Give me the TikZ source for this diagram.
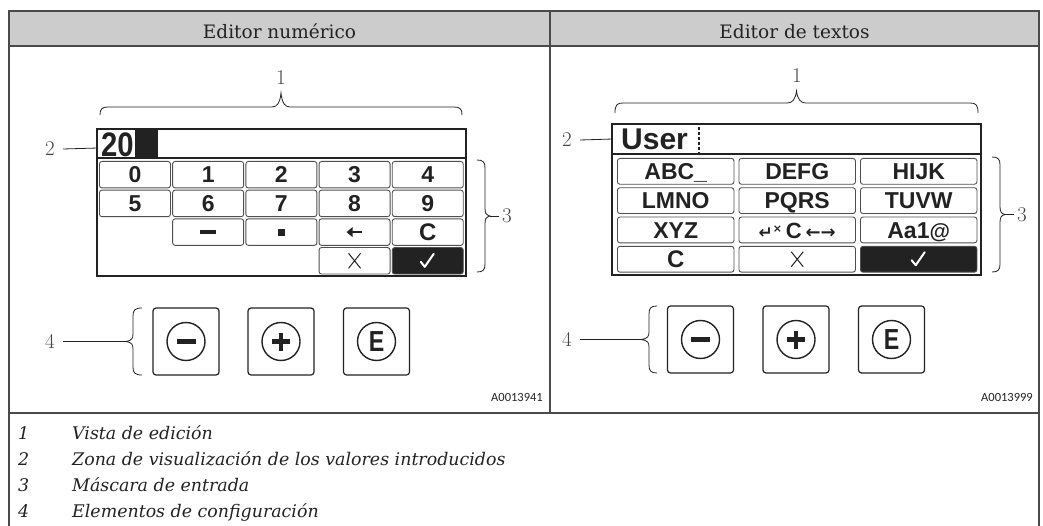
\documentclass[tikz,border=0pt]{standalone}
\usepackage{fontspec}
\usepackage{graphicx}
\setmainfont{DejaVu Serif}
\newfontfamily\keyf{Liberation Sans}
\newfontfamily\lmr{Latin Modern Roman}
\newfontfamily\dvs{DejaVu Sans}
\newfontfamily\idf{Carlito}
\definecolor{hdr}{HTML}{CCCCCC}
\definecolor{ln}{HTML}{4A4A4A}
\definecolor{ink}{HTML}{222222}
\definecolor{keyc}{HTML}{4F4F4F}

% horizontal brace, tip up: x1, x2, yend, ybody, ytip
\newcommand\topbrace[5]{%
 \pgfmathsetmacro\xmid{(#1+#2)/2}%
 \draw[brace] (#1,#3) .. controls (#1,{#4+2}) and ({#1+2},#4) .. ({#1+8},#4) -- ({\xmid-9},#4)
   .. controls ({\xmid-4},#4) and ({\xmid-1},{#4-4}) .. (\xmid,#5)
   .. controls ({\xmid+1},{#4-4}) and ({\xmid+4},#4) .. ({\xmid+9},#4) -- ({#2-8},#4)
   .. controls ({#2-2},#4) and (#2,{#4+2}) .. (#2,#3);}
% vertical brace, tip right: y1, y2, xend, xbody, xtip
\newcommand\bracer[5]{%
 \pgfmathsetmacro\ymid{(#1+#2)/2}%
 \draw[brace] (#3,#1) .. controls ({#4-2},#1) and (#4,{#1+2}) .. (#4,{#1+8}) -- (#4,{\ymid-8})
   .. controls (#4,{\ymid-3}) and ({#4+1},{\ymid-1}) .. (#5,\ymid)
   .. controls ({#4+1},{\ymid+1}) and (#4,{\ymid+3}) .. (#4,{\ymid+8}) -- (#4,{#2-8})
   .. controls (#4,{#2-2}) and ({#4-2},#2) .. (#3,#2);}
% vertical brace, tip left
\newcommand\bracel[5]{%
 \pgfmathsetmacro\ymid{(#1+#2)/2}%
 \draw[brace] (#3,#1) .. controls ({#4+2},#1) and (#4,{#1+2}) .. (#4,{#1+8}) -- (#4,{\ymid-8})
   .. controls (#4,{\ymid-3}) and ({#4-1},{\ymid-1}) .. (#5,\ymid)
   .. controls ({#4-1},{\ymid+1}) and (#4,{\ymid+3}) .. (#4,{\ymid+8}) -- (#4,{#2-8})
   .. controls (#4,{#2-2}) and ({#4+2},#2) .. (#3,#2);}

\begin{document}
\begin{tikzpicture}[x=1pt,y=-1pt,
  tbl/.style={draw=ln, line width=1.1pt},
  hdrtext/.style={font=\fontsize{18.5}{20}\selectfont, text=ink, inner sep=0pt},
  lab/.style={font=\lmr\fontsize{21}{22}\selectfont, text=ink!85!white, inner sep=0pt},
  brace/.style={draw=ink, line width=0.8pt},
  lead/.style={draw=ink, line width=0.8pt},
  box/.style={draw=ink, line width=1.3pt},
  key/.style={draw=keyc, line width=0.9pt, rounded corners=2.5pt, anchor=north west, inner sep=0pt,
    text=ink, font=\keyf\bfseries\fontsize{23}{23}\selectfont, text height=16.5pt, text depth=0pt},
  lkey/.style={key, minimum width=71pt, minimum height=26.5pt},
  rkey/.style={key, minimum width=116.5pt, minimum height=25.8pt},
  cfont/.style={font=\keyf\bfseries\fontsize{24}{24}\selectfont},
  valf/.style={anchor=base west, inner sep=0pt, text=ink},
  btn/.style={draw=ink, line width=1.2pt, rounded corners=3pt, minimum width=66pt, minimum height=67pt, inner sep=0pt},
  ring/.style={draw=ink, line width=1.4pt},
  efont/.style={font=\keyf\bfseries\fontsize{29}{29}\selectfont, text=ink, inner sep=0pt, text height=20.8pt, text depth=0pt},
  legend/.style={font=\itshape\fontsize{17.4}{19}\selectfont, text=ink, anchor=base west, inner sep=0pt},
  idt/.style={font=\idf\fontsize{12.5}{13}\selectfont, text=ink, anchor=base east, inner sep=0pt}
]
\useasboundingbox (0,0) rectangle (1043,526);
% ---------- table ----------
\fill[hdr] (9,11) rectangle (1039,46);
\draw[tbl] (9,526) -- (9,11) -- (1039,11) -- (1039,526);
\draw[tbl] (9,46) -- (1039,46);
\draw[tbl] (550,11) -- (550,413);
\draw[tbl] (9,413) -- (1039,413);
\node[hdrtext, anchor=base] (h1) at (279.5,38.5) {Editor numérico};
\node[hdrtext, anchor=base] (h2) at (794.5,38.5) {Editor de textos};

% ---------- left: numeric editor ----------
\node[lab] (l1) at (281,78) {1};
\topbrace{100}{462}{115}{107}{93}
\node[lab] (l2) at (50,149) {2};
\coordinate (l2e) at (98,148);
\draw[lead] ([xshift=8pt]l2.east) -- (l2e);
\draw[box] (97,129) rectangle (466,276);
\draw[box] (97,158) -- (466,158);
\fill[ink] (135,129) rectangle (158,158);
\node[valf, font=\keyf\bfseries\fontsize{34}{34}\selectfont] (lval) at (101,156.5) {\scalebox{0.86}[1]{20}};

\foreach \t [count=\i from 0] in {0,1,2,3,4}
  \node[lkey] (lk0\i) at ({99+73.2*\i},161) {\t};
\foreach \t [count=\i from 0] in {5,6,7,8,9}
  \node[lkey] (lk1\i) at ({99+73.2*\i},189.7) {\t};
\node[lkey] (lk21) at (172.2,218.4) {};
\node[lkey] (lk22) at (245.4,218.4) {};
\node[lkey] (lk23) at (318.6,218.4) {};
\node[lkey, cfont] (lk24) at (391.8,218.4) {C};
\node[lkey] (lk33) at (318.6,247.1) {};
\node[lkey, fill=ink] (lk34) at (391.8,247.1) {};
\fill[ink] ([shift={(-8,-2.2)}]lk21.center) rectangle ([shift={(8,2.2)}]lk21.center);
\fill[ink] ([shift={(-3.5,-3.5)}]lk22.center) rectangle ([shift={(3.5,3.5)}]lk22.center);
\draw[ink, line width=2pt] ([shift={(-3,0)}]lk23.center) -- ([shift={(7,0)}]lk23.center);
\fill[ink] ([shift={(-8,0)}]lk23.center) -- ([shift={(-2,-5)}]lk23.center) -- ([shift={(-2,5)}]lk23.center) -- cycle;
\draw[ink, line width=1pt] ([shift={(-6,-7.5)}]lk33.center) -- ([shift={(6,7.5)}]lk33.center)
  ([shift={(6,-7.5)}]lk33.center) -- ([shift={(-6,7.5)}]lk33.center);
\draw[white, line width=2pt, line join=round, line cap=round] ([shift={(-7,1)}]lk34.center) -- ([shift={(-3,6)}]lk34.center) -- ([shift={(6,-7)}]lk34.center);

\bracer{160}{272}{477}{485}{490}
\coordinate (l3t) at (490,216);
\node[lab] (l3) at (507,216) {3};
\draw[lead] (l3t) -- ([xshift=-3pt]l3.west);

\bracel{308}{375}{142}{133}{126}
\coordinate (l4t) at (126,341.5);
\node[lab] (l4) at (50,341.5) {4};
\draw[lead] ([xshift=8pt]l4.east) -- (l4t);
\node[btn] (lb1) at (186,341.5) {};
\node[btn] (lb2) at (281,341.5) {};
\node[btn] (lb3) at (376.5,341.5) {};
\draw[ring] (lb1.center) circle (19pt);
\draw[ring] (lb2.center) circle (19pt);
\draw[ring] (lb3.center) circle (19pt);
\fill[ink] ([shift={(-9.5,-2.7)}]lb1.center) rectangle ([shift={(9.5,2.7)}]lb1.center);
\fill[ink] ([shift={(-9,-2.4)}]lb2.center) rectangle ([shift={(9,2.4)}]lb2.center);
\fill[ink] ([shift={(-2.4,-9)}]lb2.center) rectangle ([shift={(2.4,9)}]lb2.center);
\node[efont] (le) at (lb3.center) {\scalebox{0.8}[1]{E}};
\node[idt] (id1) at (543,401) {A0013941};

% ---------- right: text editor ----------
\node[lab] (r1) at (797,76) {1};
\topbrace{615}{978}{113}{103}{91}
\node[lab] (r2) at (567,140) {2};
\coordinate (r2e) at (613,139);
\draw[lead] ([xshift=8pt]r2.east) -- (r2e);
\draw[box] (612,124) rectangle (981,275);
\draw[box] (612,154) -- (981,154);
\node[valf, font=\keyf\bfseries\fontsize{30}{30}\selectfont] (rval) at (621,149.5) {User};
\draw[ink, line width=1.3pt, dash pattern=on 3pt off 2pt] (699,127) -- (699,153);

\foreach \t [count=\i from 0] in {ABC\_,DEFG,HIJK}
  \node[rkey] (rk0\i) at ({617+121.5*\i},158) {\t};
\foreach \t [count=\i from 0] in {LMNO,PQRS,TUVW}
  \node[rkey] (rk1\i) at ({617+121.5*\i},187.3) {\t};
\node[rkey] (rk20) at (617,216.6) {XYZ};
\node[rkey] (rk21) at (738.5,216.6) {{\dvs\bfseries\fontsize{17}{17}\selectfont ↵}\raisebox{6pt}{\dvs\bfseries\fontsize{11}{11}\selectfont ×}\,{\keyf\bfseries\fontsize{22}{22}\selectfont C}\,{\dvs\bfseries\fontsize{18}{18}\selectfont ←→}};
\node[rkey] (rk22) at (860,216.6) {Aa1{\fontsize{21}{21}\selectfont @}};
\node[rkey, cfont] (rk30) at (617,245.9) {C};
\node[rkey] (rk31) at (738.5,245.9) {};
\node[rkey, fill=ink] (rk32) at (860,245.9) {};
\draw[ink, line width=1pt] ([shift={(-6,-7.5)}]rk31.center) -- ([shift={(6,7.5)}]rk31.center)
  ([shift={(6,-7.5)}]rk31.center) -- ([shift={(-6,7.5)}]rk31.center);
\draw[white, line width=2pt, line join=round, line cap=round] ([shift={(-7,1)}]rk32.center) -- ([shift={(-3,6)}]rk32.center) -- ([shift={(6,-7)}]rk32.center);

\bracer{157}{272}{992}{1000}{1005}
\coordinate (r3t) at (1005,214.5);
\node[lab] (r3) at (1022,214.5) {3};
\draw[lead] (r3t) -- ([xshift=-3pt]r3.west);

\bracel{306}{373}{657}{649}{641}
\coordinate (r4t) at (641,339.5);
\node[lab] (r4) at (567,339.5) {4};
\draw[lead] ([xshift=8pt]r4.east) -- (r4t);
\node[btn] (rb1) at (700.5,339.5) {};
\node[btn] (rb2) at (796,339.5) {};
\node[btn] (rb3) at (891.5,339.5) {};
\draw[ring] (rb1.center) circle (19pt);
\draw[ring] (rb2.center) circle (19pt);
\draw[ring] (rb3.center) circle (19pt);
\fill[ink] ([shift={(-9.5,-2.7)}]rb1.center) rectangle ([shift={(9.5,2.7)}]rb1.center);
\fill[ink] ([shift={(-9,-2.4)}]rb2.center) rectangle ([shift={(9,2.4)}]rb2.center);
\fill[ink] ([shift={(-2.4,-9)}]rb2.center) rectangle ([shift={(2.4,9)}]rb2.center);
\node[efont] (re) at (rb3.center) {\scalebox{0.8}[1]{E}};
\node[idt] (id2) at (1033,401) {A0013999};

% ---------- legend ----------
\node[legend] (n1) at (18,439) {1};
\node[legend] (t1) at (72,439) {Vista de edición};
\node[legend] (n2) at (18,465) {2};
\node[legend] (t2) at (72,465) {Zona de visualización de los valores introducidos};
\node[legend] (n3) at (18,491) {3};
\node[legend] (t3) at (72,491) {Máscara de entrada};
\node[legend] (n4) at (18,517) {4};
\node[legend] (t4) at (72,517) {Elementos de configuración};
\end{tikzpicture}
\end{document}
